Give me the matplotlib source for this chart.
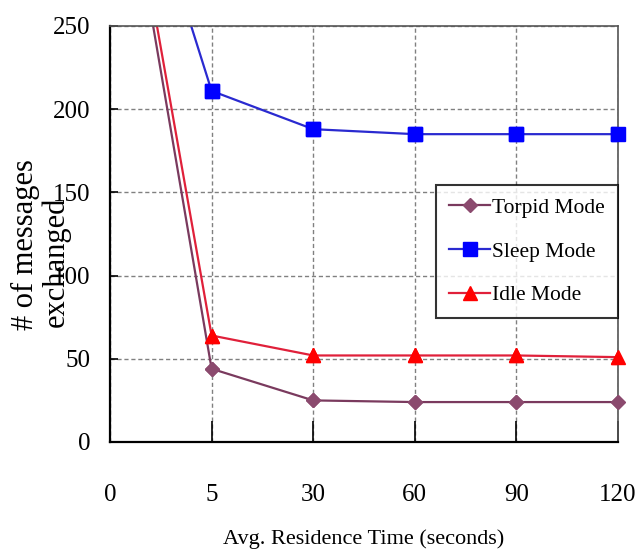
import matplotlib
matplotlib.use("Agg")
import matplotlib.pyplot as plt
import numpy as np

x_labels = ["0", "5", "30", "60", "90", "120"]
torpid = [402, 44, 25, 24, 24, 24]
sleep = [405, 211, 188, 185, 185, 185]
idle = [410, 64, 52, 52, 52, 51]
y_ticks = [0, 50, 100, 150, 200, 250]

plt.rcParams['font.family'] = ['Liberation Serif', 'DejaVu Serif']

fig = plt.figure(figsize=(6.41, 5.56), dpi=100)
ax = fig.add_axes([110/641, 1-442/556, (618-110)/641, (442-26)/556])

xs = np.arange(len(x_labels))
ymax = 250
series = [
    (torpid, '#7a3a5e', '#8b4a6e', 'D', 7, 'Torpid Mode'),
    (sleep, '#2a2ad0', '#0000ff', 's', 10, 'Sleep Mode'),
    (idle, '#e0203a', '#ff0000', '^', 10, 'Idle Mode'),
]
for vals, lc, mc, mk, ms, lab in series:
    ax.plot(xs, vals, color=lc, marker=mk, markersize=ms, lw=1.6,
            markerfacecolor=mc, markeredgecolor=mc, label=lab)
    v = np.array(vals, dtype=float)
    v[v > ymax] = np.nan
    ax.plot(xs, v, linestyle='none', marker=mk, markersize=ms,
            markerfacecolor=mc, markeredgecolor=mc, clip_on=False, zorder=5)

ax.set_xlim(0, 5)
ax.set_ylim(0, ymax)
ax.set_xticks(xs)
ax.set_xticklabels(x_labels)
ax.set_yticks(y_ticks)

ax.grid(True, color='#808080', linestyle=(0, (3, 2)), lw=1.0)
ax.tick_params(axis='x', direction='in', length=15, width=1.2, pad=30, labelsize=18)
ax.tick_params(axis='y', direction='in', length=6, width=1.2, pad=14, labelsize=18)

for s in ['left', 'bottom']:
    ax.spines[s].set_color('black')
    ax.spines[s].set_linewidth(1.6)
for s in ['top', 'right']:
    ax.spines[s].set_color('#555555')
    ax.spines[s].set_linewidth(1.2)

ax.set_xlabel('Avg. Residence Time (seconds)', fontsize=16, labelpad=17)
fig.text(25/641, 1-245/556, '# of messages', rotation=90, fontsize=22,
         ha='center', va='center')
fig.text(56/641, 1-262/556, 'exchanged', rotation=90, fontsize=22,
         ha='center', va='center')

leg = ax.legend(loc='upper right', bbox_to_anchor=(1.0, 1-(185-26)/(442-26)),
                fontsize=15.5, frameon=True, fancybox=False, borderpad=0.6,
                handlelength=1.9, handletextpad=0.1, labelspacing=1.1,
                borderaxespad=0)
leg.get_frame().set_edgecolor('black')
leg.get_frame().set_linewidth(1.5)

fig.savefig('out.png', dpi=100)
